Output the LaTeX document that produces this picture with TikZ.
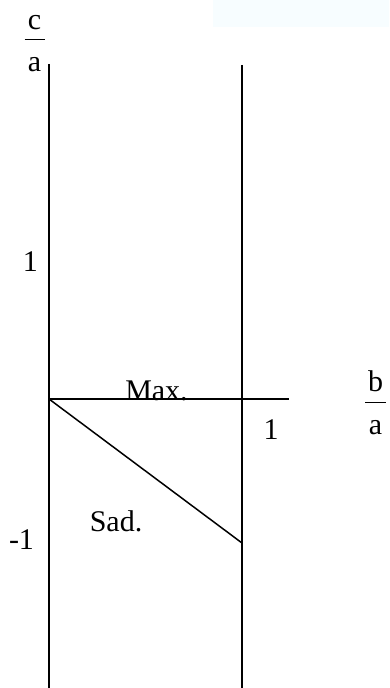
\documentclass[tikz,border=0pt]{standalone}
\usepackage{fontspec}
\setmainfont{Liberation Serif}
\usepackage{xcolor}
\usepackage{tikz}
\usetikzlibrary{calc}

\definecolor{tintblue}{HTML}{F7FDFF}

\begin{document}
\begin{tikzpicture}[
  x=1pt, y=1pt,
  axis/.style={
    line width=1.5pt
  },
  lbl/.style={
    anchor=base,
    inner sep=0pt,
    font=\fontsize{30}{36}\selectfont
  },
  fracbar/.style={
    line width=1pt
  }
]
\useasboundingbox (0,0) rectangle (389,688);

% faint tint at the top
\fill[tintblue] (213,661) rectangle (389,688);

% =========================================================
% Axes and boundary lines
% =========================================================
\coordinate (origin) at (49,289);
\coordinate (ctop)   at (49,624);
\coordinate (cbot)   at (49,0);
\coordinate (rtop)   at (242,623);
\coordinate (rbot)   at (242,0);
\coordinate (bend)   at (289,289);
\coordinate (dend)   at (242,145);

\draw[axis] (ctop) -- (cbot);
\draw[axis] (rtop) -- (rbot);
\draw[axis] (origin) -- (bend);
\draw[axis] (origin) -- (dend);

% =========================================================
% Axis labels (ratios)
% =========================================================
\node[lbl] (cnum) at (34.5,658) {c};
\node[lbl] (cden) at (34.5,616) {a};
\draw[fracbar] ($(cden.base)+(-10,32)$) -- ++(20,0);

\node[lbl] (bnum) at (375.5,296) {b};
\node[lbl] (bden) at (375.5,253) {a};
\draw[fracbar] ($(bden.base)+(-10.5,32)$) -- ++(21,0);

% ticks
\node[lbl] (cone)   at (30.5,416) {1};
\node[lbl] (cmone)  at (21.5,138) {-1};
\node[lbl] (bone)   at (271,248)  {1};

% =========================================================
% Region labels
% =========================================================
\node[lbl] (maxlbl) at (156.5,287) {Max.};
\node[lbl] (sadlbl) at (116,156)   {Sad.};

\end{tikzpicture}
\end{document}
